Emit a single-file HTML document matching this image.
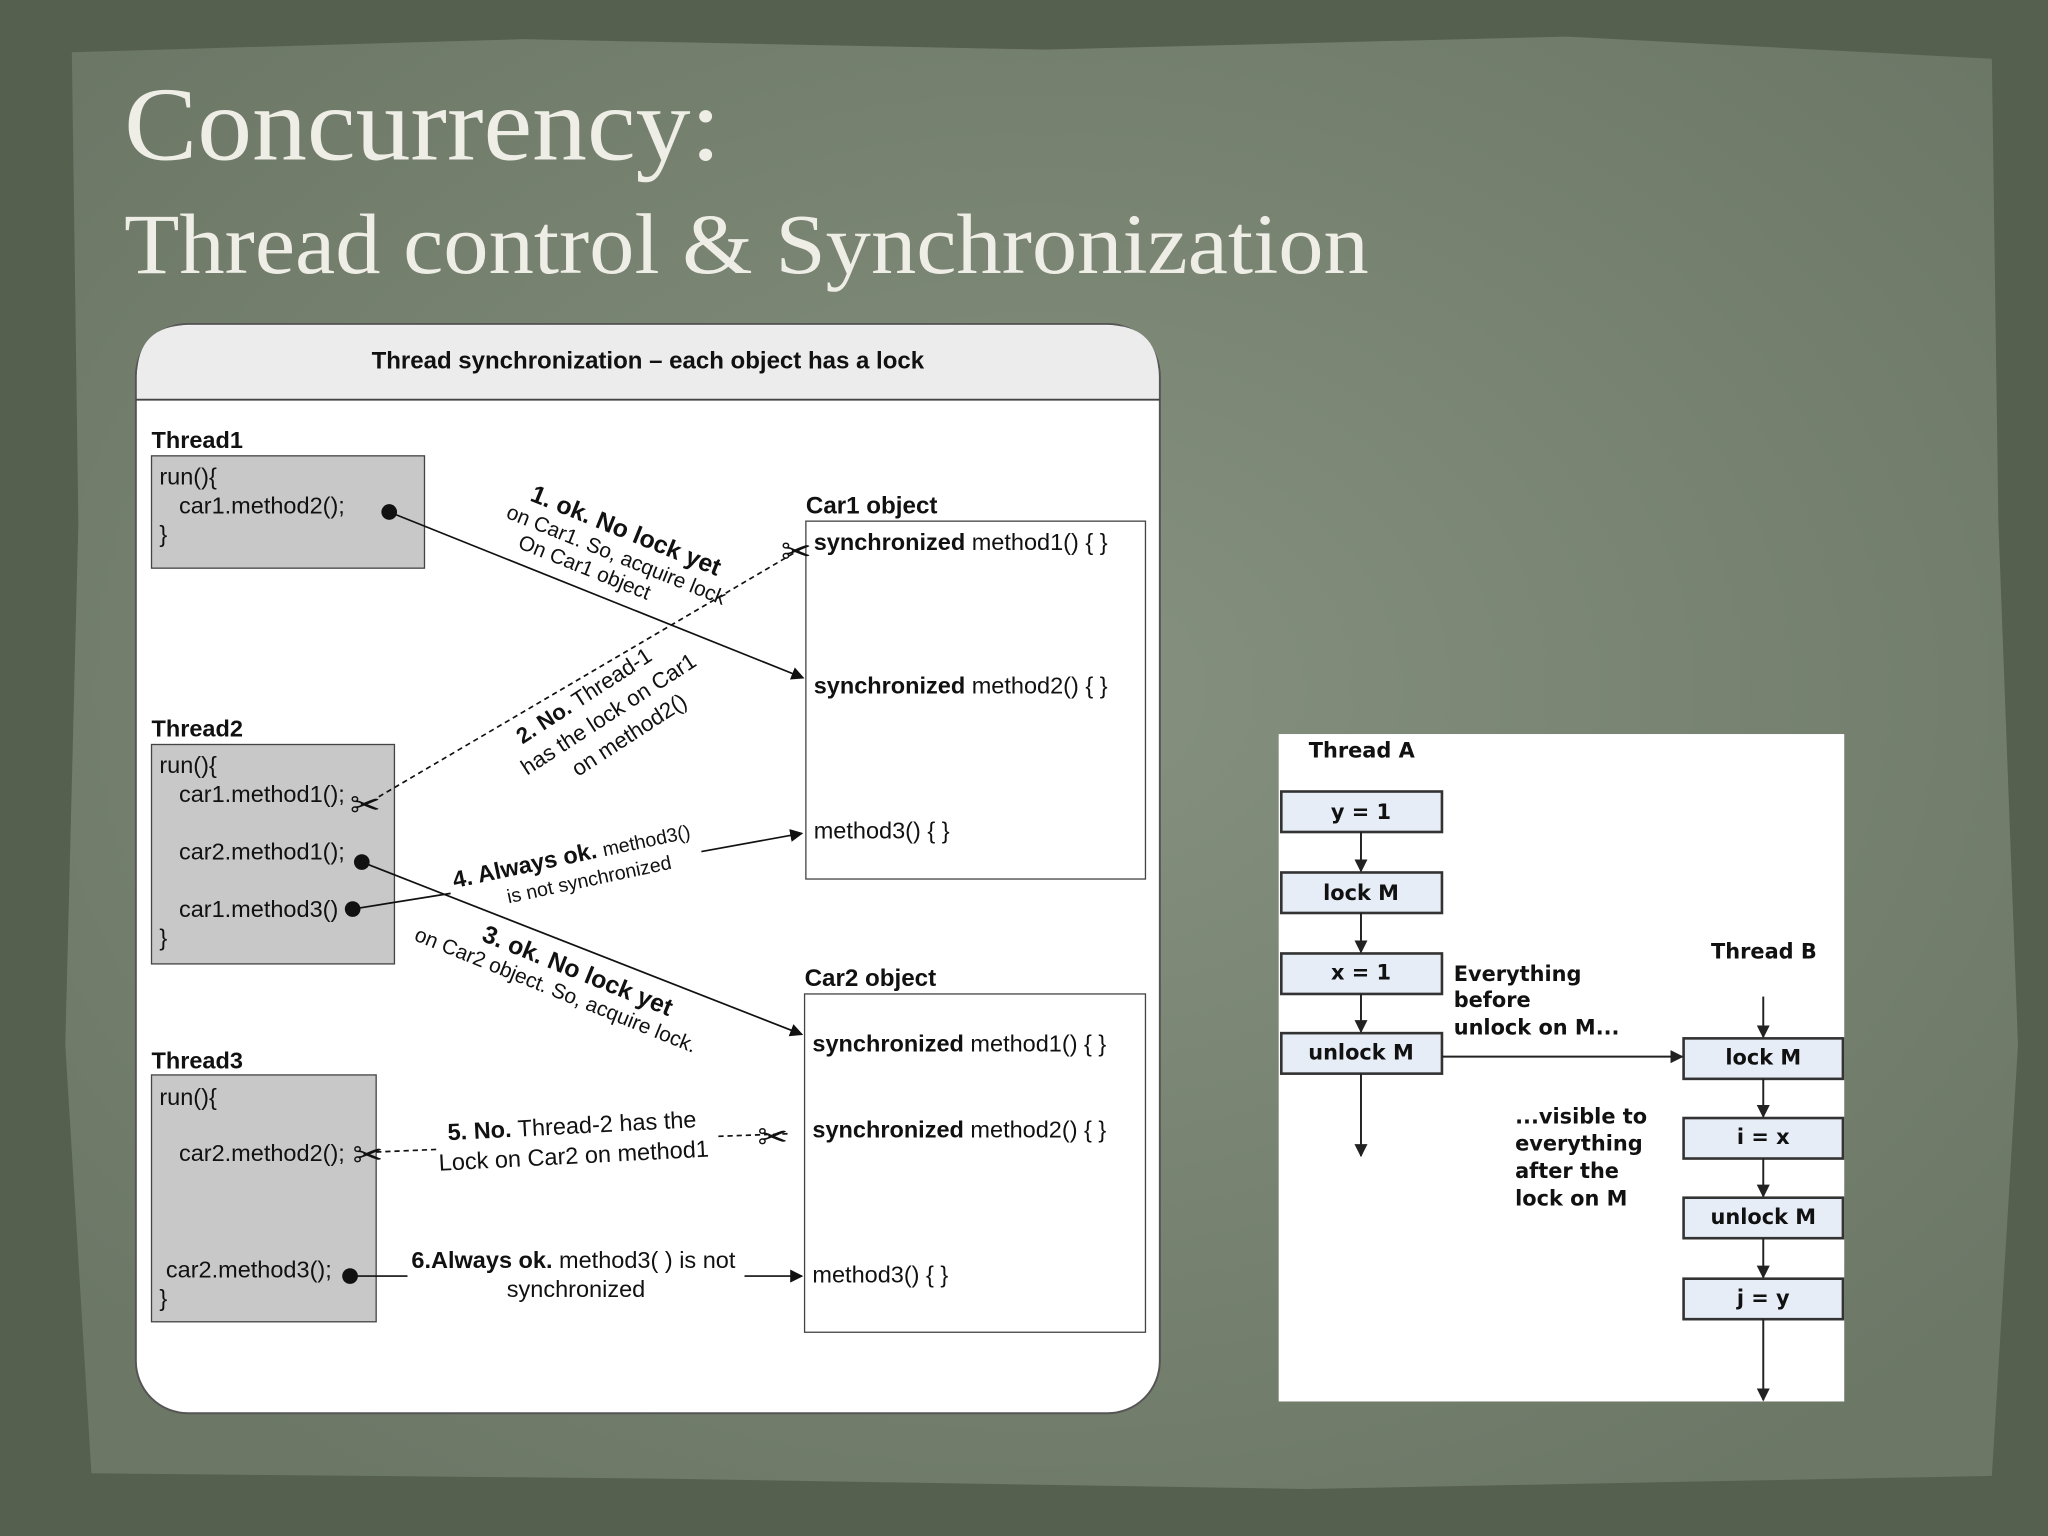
<!DOCTYPE html>
<html><head><meta charset="utf-8"><style>
html,body{margin:0;padding:0;width:2048px;height:1536px;overflow:hidden;background:#56604f}
svg{display:block}
.s{font-family:"Liberation Sans",Arial,sans-serif;fill:#111}
</style></head><body>
<svg width="2048" height="1536" viewBox="0 0 1568 1176" xmlns="http://www.w3.org/2000/svg">
<defs>
<radialGradient id="bg" cx="50%" cy="45%" r="65%">
<stop offset="0" stop-color="#86917f"/><stop offset="1" stop-color="#6c7766"/>
</radialGradient>
<marker id="a" markerWidth="10" markerHeight="10" refX="9" refY="5" orient="auto" markerUnits="userSpaceOnUse"><path d="M0,0 L10,5 L0,10 z" fill="#111"/></marker>
<marker id="b" markerWidth="10" markerHeight="10" refX="9" refY="5" orient="auto" markerUnits="userSpaceOnUse"><path d="M0,0 L10,5 L0,10 z" fill="#222"/></marker>
</defs>
<rect width="1568" height="1176" fill="#56604f"/>
<path d="M55,40 L400,30 L800,38 L1200,28 L1525,45 L1530,400 L1545,800 L1525,1130 L1000,1140 L500,1132 L70,1128 L50,800 L60,400 z" fill="url(#bg)"/>
<text x="95" y="122" font-family="Liberation Serif,serif" font-size="80" fill="#eeeee6" textLength="457" lengthAdjust="spacingAndGlyphs">Concurrency:</text>
<text x="95" y="209" font-family="Liberation Serif,serif" font-size="66" fill="#eeeee6" textLength="953" lengthAdjust="spacingAndGlyphs">Thread control &amp; Synchronization</text>

<!-- left panel -->
<rect x="104" y="248" width="784" height="834" rx="40" fill="#fff" stroke="#555" stroke-width="1.5"/>
<path d="M105,306 L105,288 Q105,249 144,249 L848,249 Q887,249 887,288 L887,306 z" fill="#ececec"/>
<line x1="104" y1="306" x2="888" y2="306" stroke="#444" stroke-width="1.5"/>
<text class="s" x="496" y="282" font-size="18.4" font-weight="bold" text-anchor="middle">Thread synchronization – each object has a lock</text>

<g class="s" font-size="18">
<text x="116" y="343" font-weight="bold" font-size="18">Thread1</text>
<rect x="116" y="349" width="209" height="86" fill="#c8c8c8" stroke="#444"/>
<text x="122" y="371">run(){</text><text x="137" y="393">car1.method2();</text><text x="122" y="415">}</text>

<text x="116" y="564" font-weight="bold" font-size="18">Thread2</text>
<rect x="116" y="570" width="186" height="168" fill="#c8c8c8" stroke="#444"/>
<text x="122" y="592">run(){</text><text x="137" y="614">car1.method1();</text><text x="137" y="658">car2.method1();</text><text x="137" y="702">car1.method3()</text><text x="122" y="724">}</text>

<text x="116" y="818" font-weight="bold" font-size="18">Thread3</text>
<rect x="116" y="823" width="172" height="189" fill="#c8c8c8" stroke="#444"/>
<text x="122" y="846">run(){</text><text x="137" y="889">car2.method2();</text><text x="127" y="978">car2.method3();</text><text x="122" y="1000">}</text>

<text x="617" y="393" font-weight="bold" font-size="18.5">Car1 object</text>
<rect x="617" y="399" width="260" height="274" fill="#fff" stroke="#444"/>
<text x="623" y="421"><tspan font-weight="bold">synchronized</tspan> method1() { }</text>
<text x="623" y="531"><tspan font-weight="bold">synchronized</tspan> method2() { }</text>
<text x="623" y="642">method3() { }</text>

<text x="616" y="755" font-weight="bold" font-size="18.5">Car2 object</text>
<rect x="616" y="761" width="261" height="259" fill="#fff" stroke="#444"/>
<text x="622" y="805"><tspan font-weight="bold">synchronized</tspan> method1() { }</text>
<text x="622" y="871"><tspan font-weight="bold">synchronized</tspan> method2() { }</text>
<text x="622" y="982">method3() { }</text>
</g>

<!-- connectors -->
<g stroke="#111" stroke-width="1.3" fill="none">
<line x1="298" y1="392" x2="615" y2="519" marker-end="url(#a)"/>
<line x1="290" y1="610" x2="612" y2="421" stroke-dasharray="4,3"/>
<line x1="277" y1="660" x2="614" y2="792" marker-end="url(#a)"/>
<path d="M270,696 L345,684 M537,652 L614,638" marker-end="url(#a)"/>
<line x1="288" y1="882" x2="335" y2="880" stroke-dasharray="4,3"/>
<line x1="550" y1="870" x2="604" y2="868" stroke-dasharray="4,3"/>
<path d="M268,977 L312,977 M570,977 L614,977" marker-end="url(#a)"/>
</g>
<g fill="#111"><circle cx="298" cy="392" r="6"/><circle cx="277" cy="660" r="6"/><circle cx="270" cy="696" r="6"/><circle cx="268" cy="977" r="6"/></g>
<g class="s" font-size="28" fill="#333"><text x="598" y="432">✂</text><text x="268" y="626">✂</text><text x="270" y="894">✂</text><text x="580" y="880">✂</text></g>

<g class="s" font-size="17">
<g transform="translate(405,383) rotate(22)"><text font-weight="bold" font-size="19">1. ok. No lock yet</text><text x="-12" y="19" font-size="16">on Car1. So, acquire lock</text><text x="5" y="37" font-size="16">On Car1 object</text></g>
<g transform="translate(400,570) rotate(-33)"><text font-size="17"><tspan font-weight="bold">2. No.</tspan> Thread-1</text><text x="-10" y="22">has the lock on Car1</text><text x="22" y="44">on method2()</text></g>
<g transform="translate(348,680) rotate(-12)"><text><tspan font-weight="bold" font-size="18">4. Always ok.</tspan> <tspan font-size="15">method3()</tspan></text><text x="38" y="20" font-size="15">is not synchronized</text></g>
<g transform="translate(368,720) rotate(22)"><text font-weight="bold" font-size="19">3. ok. No lock yet</text><text x="-48" y="19" font-size="16">on Car2 object. So, acquire lock.</text></g>
<g transform="translate(343,873) rotate(-3)"><text font-size="18"><tspan font-weight="bold">5. No.</tspan> Thread-2 has the</text><text x="-8" y="23" font-size="18">Lock on Car2 on method1</text></g>
<text x="315" y="971" font-size="18"><tspan font-weight="bold">6.Always ok.</tspan> method3( ) is not</text>
<text x="441" y="993" font-size="18" text-anchor="middle">synchronized</text>
</g>

<!-- right panel -->
<rect x="979" y="562" width="433" height="511" fill="#fff"/>
<g font-family="DejaVu Sans,sans-serif" font-size="16" font-weight="bold" fill="#111">
<text x="1002" y="580">Thread A</text>
<text x="1310" y="734">Thread B</text>
<text x="1113" y="751">Everything</text><text x="1113" y="771">before</text><text x="1113" y="792">unlock on M...</text>
<text x="1160" y="860">...visible to</text><text x="1160" y="881">everything</text><text x="1160" y="902">after the</text><text x="1160" y="923">lock on M</text>
</g>
<g fill="#e6edf6" stroke="#333" stroke-width="2">
<rect x="981" y="606" width="123" height="31"/><rect x="981" y="668" width="123" height="31"/><rect x="981" y="730" width="123" height="31"/><rect x="981" y="791" width="123" height="31"/>
<rect x="1289" y="795" width="122" height="31"/><rect x="1289" y="856" width="122" height="31"/><rect x="1289" y="917" width="122" height="31"/><rect x="1289" y="979" width="122" height="31"/>
</g>
<g font-family="DejaVu Sans,sans-serif" font-size="16" font-weight="bold" fill="#111" text-anchor="middle">
<text x="1042" y="627">y = 1</text><text x="1042" y="689">lock M</text><text x="1042" y="750">x = 1</text><text x="1042" y="811">unlock M</text>
<text x="1350" y="815">lock M</text><text x="1350" y="876">i = x</text><text x="1350" y="937">unlock M</text><text x="1350" y="999">j = y</text>
</g>
<g stroke="#222" stroke-width="1.5">
<line x1="1042" y1="637" x2="1042" y2="667" marker-end="url(#b)"/>
<line x1="1042" y1="699" x2="1042" y2="729" marker-end="url(#b)"/>
<line x1="1042" y1="761" x2="1042" y2="790" marker-end="url(#b)"/>
<line x1="1042" y1="822" x2="1042" y2="885" marker-end="url(#b)"/>
<line x1="1104" y1="809" x2="1288" y2="809" marker-end="url(#b)"/>
<line x1="1350" y1="763" x2="1350" y2="794" marker-end="url(#b)"/>
<line x1="1350" y1="826" x2="1350" y2="855" marker-end="url(#b)"/>
<line x1="1350" y1="887" x2="1350" y2="916" marker-end="url(#b)"/>
<line x1="1350" y1="948" x2="1350" y2="978" marker-end="url(#b)"/>
<line x1="1350" y1="1010" x2="1350" y2="1072" marker-end="url(#b)"/>
</g>
</svg>
</body></html>
